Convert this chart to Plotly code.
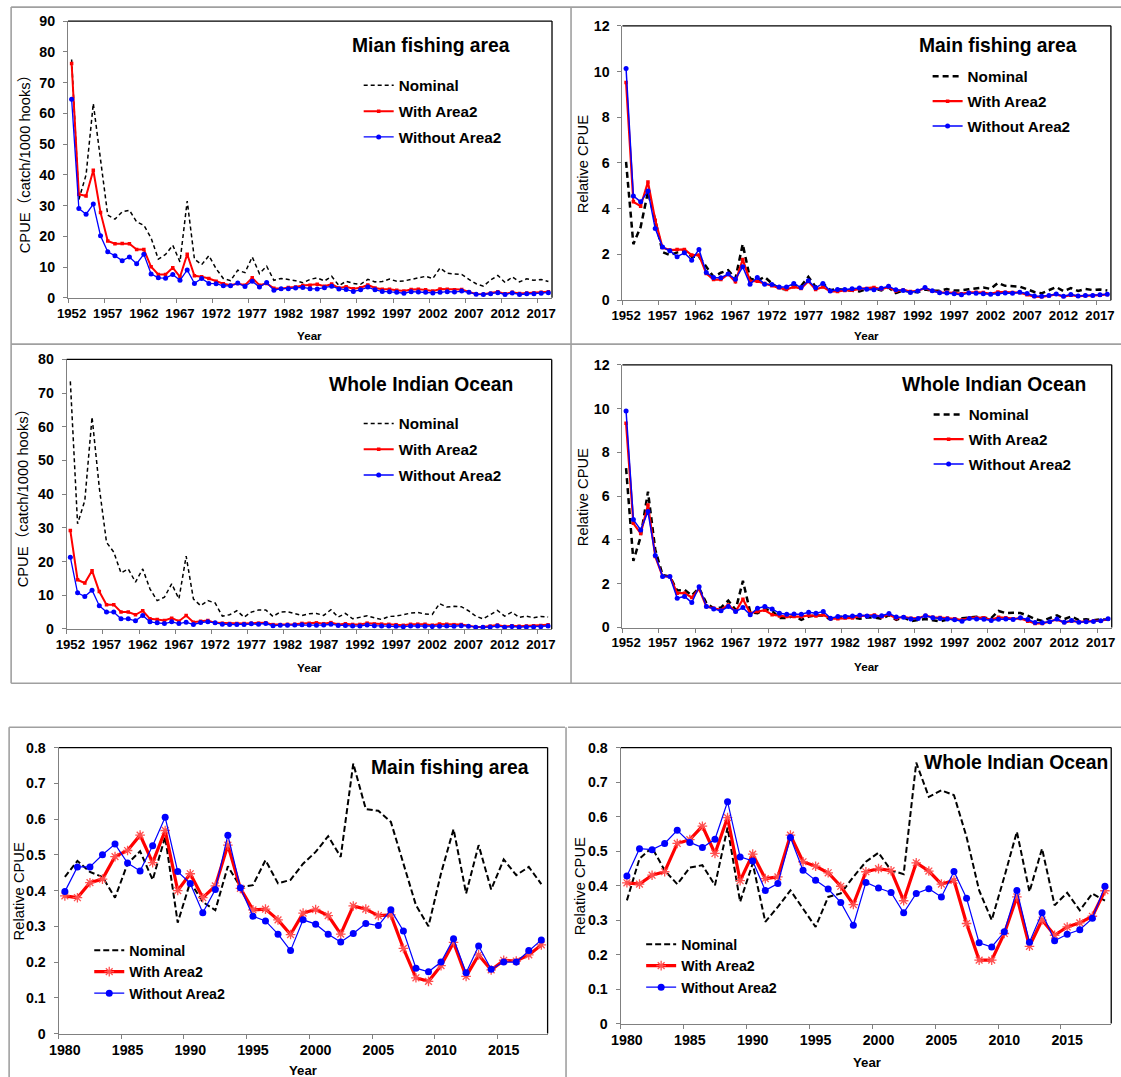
import plotly.graph_objects as go

# Screen mapping observed for this page: screen = S * (figure_px + OFF)
S = 0.985
OFF = 8
W, H = 1121, 1077

def px(x):
    return (x / S - OFF) / W

def py(y):
    return 1 - (y / S - OFF) / H

def fs(v):
    return round(v / S, 2)

# ---------------- DATA ----------------
years_all = list(range(1952, 2019))
years_recent = list(range(1980, 2019))
x_ticks_all = [1952, 1957, 1962, 1967, 1972, 1977, 1982, 1987, 1992, 1997, 2002, 2007, 2012, 2017]
x_ticks_recent = [1980, 1985, 1990, 1995, 2000, 2005, 2010, 2015]

# Panel 1: Main fishing area, CPUE (catch/1000 hooks), 1952-2018
main_cpue_nominal = [77.5, 32.0, 40.0, 63.2, 45.0, 26.9, 25.6, 28.0, 28.5, 24.7, 23.6, 19.5, 12.6, 14.1, 17.1,
                     11.7, 31.5, 12.6, 10.8, 13.7, 9.5, 6.3, 5.6, 9.0, 8.2, 13.3, 7.9, 10.3,
                     5.7, 6.3, 6.0, 5.6, 4.9, 6.0, 6.5, 5.5, 7.0, 4.0, 5.4, 4.7, 4.4, 6.0, 5.2, 5.3, 6.1,
                     5.4, 5.5, 6.0, 6.5, 7.0, 6.3, 9.7, 8.0, 7.9, 7.6, 6.0, 4.6, 3.8, 5.8, 7.3, 5.0, 6.8,
                     5.2, 6.2, 5.7, 6.0, 5.3]
main_cpue_with = [76.2, 33.7, 33.1, 41.5, 27.8, 18.5, 17.6, 17.7, 17.6, 15.7, 15.7, 10.1, 7.6, 7.6, 9.8,
                  6.8, 14.2, 7.2, 6.9, 6.3, 5.4, 4.6, 4.1, 4.7, 4.1, 6.5, 4.1, 4.7,
                  3.1, 3.0, 3.4, 3.5, 4.0, 4.1, 4.4, 3.8, 4.5, 3.2, 3.6, 3.0, 3.3, 4.2, 3.2, 2.8, 2.8,
                  2.5, 2.2, 2.7, 2.8, 2.6, 2.2, 2.9, 2.8, 2.6, 2.7, 1.9, 1.25, 1.2, 1.5, 2.0, 1.3, 1.8,
                  1.4, 1.6, 1.6, 1.8, 2.0]
main_cpue_without = [64.6, 29.1, 27.2, 30.5, 20.2, 15.0, 13.7, 12.1, 13.3, 11.1, 14.2, 7.8, 6.5, 6.4, 7.6,
                     5.7, 9.1, 4.7, 6.3, 4.7, 4.6, 3.9, 3.9, 4.8, 3.7, 5.4, 3.5, 5.0,
                     2.5, 3.0, 3.0, 3.2, 3.4, 3.0, 2.9, 3.3, 3.8, 2.9, 2.7, 2.1, 2.6, 3.5, 2.6, 2.1, 2.0,
                     1.8, 1.5, 2.0, 1.9, 1.8, 1.6, 1.8, 2.0, 1.9, 2.2, 1.8, 1.2, 1.1, 1.3, 1.7, 1.1, 1.6,
                     1.1, 1.3, 1.3, 1.5, 1.7]

# Main fishing area, relative CPUE, 1952-1979 part
main_rel_nominal_early = [6.05, 2.45, 3.2, 4.74, 3.5, 2.1, 1.97, 2.1, 2.2, 1.9, 1.9, 1.46, 1.02, 1.2, 1.31,
                          0.95, 2.45, 0.95, 0.85, 1.02, 0.73, 0.51, 0.47, 0.66, 0.61, 1.02, 0.58, 0.73]
main_rel_with_early = [9.52, 4.3, 4.11, 5.17, 3.5, 2.3, 2.19, 2.22, 2.22, 1.97, 1.97, 1.17, 0.9, 0.9, 1.14,
                       0.8, 1.78, 0.83, 0.83, 0.73, 0.63, 0.54, 0.47, 0.58, 0.51, 0.83, 0.47, 0.58]
main_rel_without_early = [10.13, 4.56, 4.3, 4.77, 3.13, 2.33, 2.16, 1.9, 2.07, 1.75, 2.22, 1.21, 0.99, 0.98,
                          1.14, 0.92, 1.46, 0.7, 0.99, 0.7, 0.69, 0.58, 0.58, 0.73, 0.55, 0.85, 0.54, 0.73]
# Main fishing area, relative CPUE, 1980-2018 part (also bottom-left panel)
main_rel_nominal_recent = [0.438, 0.483, 0.452, 0.438, 0.38, 0.475, 0.51, 0.43, 0.55, 0.31, 0.424, 0.368,
                           0.345, 0.468, 0.41, 0.415, 0.485, 0.42, 0.43, 0.475, 0.508, 0.552, 0.494, 0.755,
                           0.628, 0.623, 0.592, 0.475, 0.359, 0.30, 0.448, 0.572, 0.392, 0.527, 0.403,
                           0.487, 0.443, 0.466, 0.418]
main_rel_with_recent = [0.385, 0.38, 0.422, 0.432, 0.495, 0.512, 0.555, 0.478, 0.568, 0.40, 0.447, 0.38,
                        0.413, 0.527, 0.406, 0.346, 0.348, 0.318, 0.277, 0.337, 0.347, 0.33, 0.278, 0.357,
                        0.348, 0.33, 0.332, 0.238, 0.156, 0.146, 0.19, 0.255, 0.16, 0.22, 0.178, 0.205,
                        0.203, 0.22, 0.248]
main_rel_without_recent = [0.397, 0.466, 0.466, 0.50, 0.53, 0.477, 0.455, 0.525, 0.605, 0.453, 0.42, 0.338,
                           0.403, 0.555, 0.408, 0.328, 0.315, 0.278, 0.232, 0.318, 0.306, 0.278, 0.256,
                           0.28, 0.308, 0.302, 0.346, 0.287, 0.183, 0.173, 0.20, 0.265, 0.17, 0.245, 0.18,
                           0.20, 0.20, 0.232, 0.262]

# Panel 3: Whole Indian Ocean, CPUE (catch/1000 hooks), 1952-2018
whole_cpue_nominal = [73.5, 31.2, 38.1, 62.9, 42.0, 25.7, 22.8, 16.6, 17.8, 13.9, 17.8, 11.9, 8.4, 9.4, 13.4,
                      8.9, 21.6, 8.9, 6.9, 8.4, 7.7, 3.8, 4.2, 5.4, 3.5, 5.0, 5.6, 5.6, 3.7, 5.0, 5.1, 4.5,
                      4.0, 4.5, 4.6, 4.0, 5.7, 3.5, 4.6, 3.0, 3.4, 3.9, 3.3, 2.8, 3.7, 3.8, 4.2, 4.7, 4.9,
                      4.4, 4.3, 7.5, 6.5, 6.7, 6.6, 5.4, 3.8, 3.0, 4.2, 5.5, 3.8, 5.0, 3.4, 3.8, 3.3, 3.7,
                      3.5]
whole_cpue_with = [29.2, 14.6, 13.6, 17.3, 11.1, 7.2, 7.2, 5.0, 5.0, 4.2, 5.4, 3.0, 2.8, 2.5, 3.2, 2.3, 4.0,
                   2.0, 2.3, 2.5, 1.8, 1.7, 1.6, 1.6, 1.6, 1.7, 1.7, 1.8,
                   1.28, 1.27, 1.35, 1.38, 1.64, 1.67, 1.80, 1.55, 1.87, 1.30, 1.54, 1.32, 1.33, 1.71, 1.47,
                   1.43, 1.37, 1.25, 1.08, 1.38, 1.41, 1.39, 1.12, 1.46, 1.39, 1.27, 1.30, 0.91, 0.58, 0.58,
                   0.82, 1.15, 0.70, 0.94, 0.80, 0.88, 0.92, 0.98, 1.21]
whole_cpue_without = [21.3, 10.7, 9.6, 11.5, 6.9, 5.0, 5.0, 3.0, 3.0, 2.4, 4.0, 2.1, 1.8, 1.6, 2.1, 1.6, 2.0,
                      1.3, 1.9, 2.1, 1.8, 1.4, 1.3, 1.3, 1.3, 1.5, 1.4, 1.6,
                      0.92, 1.10, 1.09, 1.13, 1.21, 1.13, 1.10, 1.15, 1.39, 1.04, 1.02, 0.83, 0.88, 1.16, 0.96,
                      0.90, 0.84, 0.76, 0.62, 0.88, 0.85, 0.82, 0.69, 0.81, 0.84, 0.79, 0.95, 0.78, 0.51,
                      0.48, 0.57, 0.83, 0.51, 0.69, 0.52, 0.56, 0.59, 0.66, 0.86]

# Whole Indian Ocean, relative CPUE, 1952-1979 part
whole_rel_nominal_early = [7.28, 3.04, 4.15, 6.21, 3.55, 2.4, 2.33, 1.69, 1.72, 1.46, 1.8, 1.11, 0.88, 0.91,
                           1.23, 0.81, 2.13, 0.7, 0.65, 0.85, 0.76, 0.43, 0.43, 0.53, 0.35, 0.5, 0.55, 0.55]
whole_rel_with_early = [9.33, 4.76, 4.3, 5.6, 3.24, 2.33, 2.33, 1.57, 1.57, 1.37, 1.77, 0.96, 0.88, 0.81,
                        1.03, 0.73, 1.29, 0.65, 0.73, 0.79, 0.58, 0.53, 0.5, 0.5, 0.5, 0.55, 0.53, 0.58]
whole_rel_without_early = [9.89, 4.93, 4.46, 5.3, 3.29, 2.33, 2.33, 1.34, 1.42, 1.14, 1.86, 0.96, 0.85, 0.76,
                           0.96, 0.73, 0.91, 0.58, 0.88, 0.96, 0.85, 0.65, 0.61, 0.62, 0.61, 0.7, 0.65, 0.73]
# Whole Indian Ocean, relative CPUE, 1980-2018 part (also bottom-right panel)
whole_rel_nominal_recent = [0.357, 0.478, 0.51, 0.444, 0.404, 0.452, 0.459, 0.401, 0.568, 0.353, 0.464,
                            0.295, 0.338, 0.386, 0.333, 0.28, 0.367, 0.377, 0.425, 0.469, 0.495, 0.444,
                            0.433, 0.756, 0.657, 0.676, 0.662, 0.541, 0.386, 0.30, 0.425, 0.556, 0.382,
                            0.507, 0.343, 0.379, 0.328, 0.377, 0.356]
whole_rel_with_recent = [0.408, 0.404, 0.43, 0.44, 0.522, 0.533, 0.572, 0.493, 0.597, 0.414, 0.491, 0.42,
                         0.425, 0.546, 0.469, 0.456, 0.437, 0.398, 0.345, 0.44, 0.449, 0.443, 0.356, 0.466,
                         0.442, 0.404, 0.415, 0.29, 0.184, 0.184, 0.261, 0.367, 0.224, 0.30, 0.256, 0.28,
                         0.292, 0.311, 0.385]
whole_rel_without_recent = [0.428, 0.507, 0.504, 0.522, 0.56, 0.525, 0.51, 0.534, 0.643, 0.483, 0.471,
                            0.386, 0.406, 0.539, 0.444, 0.415, 0.39, 0.351, 0.285, 0.409, 0.393, 0.38,
                            0.321, 0.377, 0.391, 0.367, 0.441, 0.363, 0.234, 0.222, 0.266, 0.386, 0.236,
                            0.321, 0.24, 0.259, 0.272, 0.305, 0.398]

main_rel_nominal = main_rel_nominal_early + main_rel_nominal_recent
main_rel_with = main_rel_with_early + main_rel_with_recent
main_rel_without = main_rel_without_early + main_rel_without_recent
whole_rel_nominal = whole_rel_nominal_early + whole_rel_nominal_recent
whole_rel_with = whole_rel_with_early + whole_rel_with_recent
whole_rel_without = whole_rel_without_early + whole_rel_without_recent

series_names = ["Nominal", "With Area2", "Without Area2"]
panel_titles = ["Mian fishing area", "Main fishing area", "Whole Indian Ocean",
                "Whole Indian Ocean", "Main fishing area", "Whole Indian Ocean"]
y_titles = ["CPUE（catch/1000 hooks）", "Relative CPUE", "CPUE（catch/1000 hooks）",
            "Relative CPUE", "Relative CPUE", "Relative CPUE"]

# ---------------- LAYOUT GEOMETRY (reference pixels) ----------------
FONT = "Liberation Sans, Arial, Noto Sans CJK JP, sans-serif"
panels = [
    dict(box=(64.8, 548.0, 21.0, 297.7), yr=(0, 90), dt=10, kind="top_abs"),
    dict(box=(618.3, 1106.0, 25.7, 300.0), yr=(0, 12), dt=2, kind="top_rel"),
    dict(box=(63.5, 547.7, 359.3, 628.7), yr=(0, 80), dt=10, kind="top_abs"),
    dict(box=(618.3, 1106.8, 364.7, 627.3), yr=(0, 12), dt=2, kind="top_rel"),
    dict(box=(55.4, 543.6, 747.3, 1033.3), yr=(0, 0.8), dt=0.1, kind="bottom"),
    dict(box=(616.5, 1106.3, 747.3, 1023.3), yr=(0, 0.8), dt=0.1, kind="bottom"),
]
data_sets = [
    (years_all, main_cpue_nominal, main_cpue_with, main_cpue_without),
    (years_all, main_rel_nominal, main_rel_with, main_rel_without),
    (years_all, whole_cpue_nominal, whole_cpue_with, whole_cpue_without),
    (years_all, whole_rel_nominal, whole_rel_with, whole_rel_without),
    (years_recent, main_rel_nominal_recent, main_rel_with_recent, main_rel_without_recent),
    (years_recent, whole_rel_nominal_recent, whole_rel_with_recent, whole_rel_without_recent),
]
title_pos = [(427, 45), (993, 45), (417, 384), (989, 384), (446, 767), (1011, 762)]
ytitle_pos = [(22, 160), (579, 164), (20, 494), (579, 497), (16, 891), (576, 886)]
year_pos = [(306, 335), (862, 335), (306, 667), (862, 666), (299, 1070), (862, 1062)]
legend_pos = [(355, 68.8), (923, 59.8), (355, 406.8), (924, 397.8), (86, 934.2), (637, 928.2)]
legend_gap = [3, 2, 3, 2, 0, 0]
legend_font = [15, 15, 15, 15, 14, 14]

fig = go.Figure()
layout = dict(width=W, height=H, margin=dict(l=0, r=0, t=0, b=0),
              paper_bgcolor="white", plot_bgcolor="white", showlegend=True,
              font=dict(family=FONT, color="black"))
annotations = []
shapes = []

for i, (p, ds) in enumerate(zip(panels, data_sets)):
    n = i + 1
    sfx = "" if n == 1 else str(n)
    xa, ya = "x" + sfx, "y" + sfx
    leg = "legend" if n == 1 else "legend" + str(n)
    xs, nom, wa, woa = ds
    kind = p["kind"]
    if kind == "top_abs":
        nom_line = dict(color="black", width=1.5, dash="4px,3px")
        wa_line, wa_mk = dict(color="#ff0000", width=2), dict(symbol="square", size=3.5, color="#ff0000")
        wo_line, wo_mk = dict(color="#0000ff", width=1.3), dict(symbol="circle", size=5, color="#0000ff")
    elif kind == "top_rel":
        nom_line = dict(color="black", width=2.5, dash="6px,4px")
        wa_line, wa_mk = dict(color="#ff0000", width=2.2), dict(symbol="square", size=3.5, color="#ff0000")
        wo_line, wo_mk = dict(color="#0000ff", width=1.5), dict(symbol="circle", size=5, color="#0000ff")
    else:
        nom_line = dict(color="black", width=2, dash="6px,3px")
        wa_line = dict(color="#ff0000", width=3.2)
        wa_mk = dict(symbol="asterisk-open", size=8, color="#ff5050", line=dict(color="#ff5050", width=1.3))
        wo_line, wo_mk = dict(color="#0000ff", width=1.2), dict(symbol="circle", size=7, color="#0000ff")
    fig.add_trace(go.Scatter(x=xs, y=nom, mode="lines", name=series_names[0], line=nom_line,
                             xaxis=xa, yaxis=ya, legend=leg, legendgroup=f"g{n}a"))
    fig.add_trace(go.Scatter(x=xs, y=wa, mode="lines+markers", name=series_names[1], line=wa_line,
                             marker=wa_mk, xaxis=xa, yaxis=ya, legend=leg, legendgroup=f"g{n}b"))
    fig.add_trace(go.Scatter(x=xs, y=woa, mode="lines+markers", name=series_names[2], line=wo_line,
                             marker=wo_mk, xaxis=xa, yaxis=ya, legend=leg, legendgroup=f"g{n}c"))

    x0, x1, y0, y1 = p["box"]
    if kind == "bottom":
        xr, tv, mt0, xfs, yfs = [1979.5, 2018.5], x_ticks_recent, 1979.5, 14, 14
    else:
        xr, tv, mt0, xfs, yfs = [1951.5, 2018.5], x_ticks_all, 1951.5, 13, 14
    layout["xaxis" + sfx] = dict(
        domain=[px(x0), px(x1)], range=xr, anchor=ya, tickvals=tv, ticktext=[str(v) for v in tv],
        ticks="", showgrid=False, zeroline=False, showline=True, linecolor="#808080", linewidth=1,
        tickfont=dict(size=fs(xfs), family=FONT, color="black", weight="bold"),
        minor=dict(ticks="outside", tick0=mt0, dtick=5, ticklen=4, tickcolor="#808080", showgrid=False),
        ticklabelstandoff=3,
    )
    layout["yaxis" + sfx] = dict(
        domain=[py(y1), py(y0)], range=list(p["yr"]), anchor=xa, dtick=p["dt"], tick0=0,
        ticks="outside", ticklen=4, tickcolor="#808080", showgrid=False, zeroline=False,
        showline=True, linecolor="#808080", linewidth=1,
        tickfont=dict(size=fs(yfs), family=FONT, color="black", weight="bold"),
        ticklabelstandoff=5,
    )
    shapes.append(dict(type="line", xref=xa + " domain", yref=ya + " domain", x0=0, x1=1, y0=1, y1=1,
                       line=dict(color="black", width=1.3)))
    shapes.append(dict(type="line", xref=xa + " domain", yref=ya + " domain", x0=1, x1=1, y0=0, y1=1,
                       line=dict(color="black", width=1.3)))

    tx, ty = title_pos[i]
    annotations.append(dict(text=panel_titles[i], x=px(tx), y=py(ty), xref="paper", yref="paper",
                            showarrow=False, xanchor="center", yanchor="middle",
                            font=dict(size=fs(19), family=FONT, color="black", weight="bold")))
    yx, yy = ytitle_pos[i]
    annotations.append(dict(text=y_titles[i], x=px(yx), y=py(yy), xref="paper", yref="paper",
                            showarrow=False, xanchor="center", yanchor="middle", textangle=-90,
                            font=dict(size=fs(14.5), family=FONT, color="black")))
    qx, qy = year_pos[i]
    annotations.append(dict(text="Year", x=px(qx), y=py(qy), xref="paper", yref="paper",
                            showarrow=False, xanchor="center", yanchor="middle",
                            font=dict(size=fs(11.5 if kind != "bottom" else 13), family=FONT,
                                      color="black", weight="bold")))
    lx, ly = legend_pos[i]
    layout[leg] = dict(x=px(lx), y=py(ly), xref="paper", yref="paper", xanchor="left", yanchor="top",
                       bgcolor="rgba(0,0,0,0)", borderwidth=0,
                       tracegroupgap=legend_gap[i], traceorder="grouped",
                       font=dict(size=fs(legend_font[i]), family=FONT, color="black", weight="bold"))

# panel frames (grey boxes)
grey = dict(color="#a0a0a0", width=1.6)
for (xa0, ya0, xa1, ya1) in [
    (8, 7, 1125, 7), (8, 344, 1125, 344), (8, 683, 1125, 683),
    (8, 7, 8, 683), (567, 7, 567, 683),
    (6, 727, 561, 727), (6, 727, 6, 1085), (564, 727, 1125, 727), (562, 727, 562, 1085),
]:
    shapes.append(dict(type="line", xref="paper", yref="paper", x0=px(xa0), x1=px(xa1),
                       y0=py(ya0), y1=py(ya1), line=grey))

layout["annotations"] = annotations
layout["shapes"] = shapes
fig.update_layout(**layout)
fig.write_html("out.html")
